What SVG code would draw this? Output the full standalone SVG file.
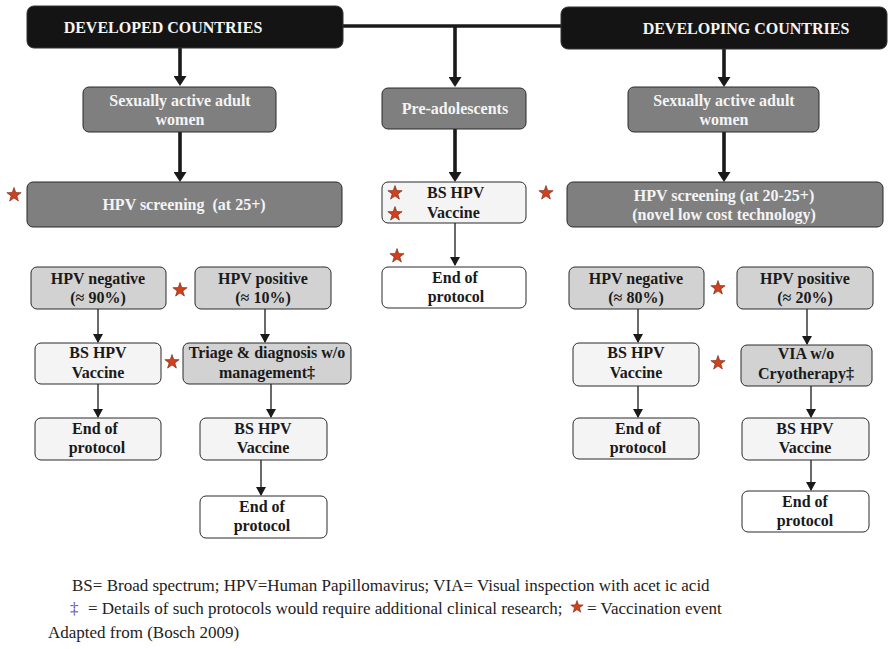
<svg xmlns="http://www.w3.org/2000/svg" width="889" height="649" viewBox="0 0 889 649">
<style>
.t{font-family:"Liberation Serif","Times New Roman",serif;font-weight:bold;font-size:16px;text-anchor:middle}
.s{text-anchor:start}
.w{fill:#f4f4f4}
.k{fill:#1a1a1a}
.hd{fill:#141414;stroke:#333;stroke-width:1}
.dk{fill:#7f7f7f;stroke:#2a2a2a;stroke-width:1}
.md{fill:#d2d2d2;stroke:#2a2a2a;stroke-width:1}
.lt{fill:#f4f4f4;stroke:#2a2a2a;stroke-width:1}
.wh{fill:#ffffff;stroke:#2a2a2a;stroke-width:1}
.thick{stroke:#1a1a1a;stroke-width:3.6;fill:none}
.thin{stroke:#1a1a1a;stroke-width:1.3;fill:none}
.ft{font-family:"Liberation Serif","Times New Roman",serif;font-size:17px;fill:#222}
.dg{fill:#5b4ea0}
</style>
<defs>
<marker id="ahk" viewBox="0 0 10 13" refX="6" refY="6.5" markerWidth="10" markerHeight="13" markerUnits="userSpaceOnUse" orient="auto"><path d="M0,0 L10,6.5 L0,13 Z" fill="#1a1a1a"/></marker>
<marker id="ahn" viewBox="0 0 9 10" refX="8" refY="5" markerWidth="9" markerHeight="10" markerUnits="userSpaceOnUse" orient="auto"><path d="M0,0 L9,5 L0,10 Z" fill="#1a1a1a"/></marker>
<symbol id="star" viewBox="-8 -8 16 16" overflow="visible"><path d="M0,-7.5 L1.76,-2.43 L7.13,-2.32 L2.85,0.93 L4.41,6.07 L0,3 L-4.41,6.07 L-2.85,0.93 L-7.13,-2.32 L-1.76,-2.43 Z" fill="#d2401c" stroke="#6a2010" stroke-width="0.6"/></symbol>
</defs>

<g id="connectors">
<path class="thick" d="M343,26 H561"/>
<path class="thick" d="M180,48 V82" marker-end="url(#ahk)"/>
<path class="thick" d="M455,26 V83" marker-end="url(#ahk)"/>
<path class="thick" d="M724,49 V83" marker-end="url(#ahk)"/>
<path class="thick" d="M180,132 V178" marker-end="url(#ahk)"/>
<path class="thick" d="M455,129 V178" marker-end="url(#ahk)"/>
<path class="thick" d="M724,132 V178" marker-end="url(#ahk)"/>
<path class="thin" d="M455,223 V265" marker-end="url(#ahn)"/>
<path class="thin" d="M98,309 V342" marker-end="url(#ahn)"/>
<path class="thin" d="M265,309 V342" marker-end="url(#ahn)"/>
<path class="thin" d="M98,384 V417" marker-end="url(#ahn)"/>
<path class="thin" d="M271,384 V417" marker-end="url(#ahn)"/>
<path class="thin" d="M261,460 V495" marker-end="url(#ahn)"/>
<path class="thin" d="M638,309 V342" marker-end="url(#ahn)"/>
<path class="thin" d="M807,309 V344" marker-end="url(#ahn)"/>
<path class="thin" d="M638,386 V417" marker-end="url(#ahn)"/>
<path class="thin" d="M811,386 V417" marker-end="url(#ahn)"/>
<path class="thin" d="M811,460 V490" marker-end="url(#ahn)"/>
</g>

<g id="developed">
<rect class="hd" x="27" y="6" width="316" height="42" rx="7"/>
<text class="t w" x="163" y="33">DEVELOPED COUNTRIES</text>
</g>
<g id="developing">
<rect class="hd" x="561" y="7" width="326" height="42" rx="7"/>
<text class="t w" x="746" y="34">DEVELOPING COUNTRIES</text>
</g>

<g id="sexually-left">
<rect class="dk" x="83" y="87" width="193" height="45" rx="6"/>
<text class="t w" x="180" y="106">Sexually active adult</text>
<text class="t w" x="180" y="125">women</text>
</g>
<g id="pre-adolescents">
<rect class="dk" x="382" y="88" width="144" height="41" rx="6"/>
<text class="t w" x="455" y="114">Pre-adolescents</text>
</g>
<g id="sexually-right">
<rect class="dk" x="628" y="87" width="191" height="45" rx="6"/>
<text class="t w" x="724" y="106">Sexually active adult</text>
<text class="t w" x="724" y="125">women</text>
</g>

<g id="screening-left">
<rect class="dk" x="27" y="182" width="315" height="45" rx="6"/>
<text class="t w" x="184" y="210" xml:space="preserve">HPV screening  (at 25+)</text>
<use href="#star" x="6" y="187" width="16" height="16"/>
</g>
<g id="vaccine-mid">
<rect class="lt" x="382" y="182" width="144" height="41" rx="6"/>
<text class="t s k" x="427" y="198">BS HPV</text>
<text class="t s k" x="427" y="218">Vaccine</text>
<use href="#star" x="387" y="185" width="16" height="16"/>
<use href="#star" x="387" y="206" width="16" height="16"/>
</g>
<g id="screening-right">
<rect class="dk" x="567" y="182" width="316" height="45" rx="6"/>
<text class="t w" x="724" y="201">HPV screening (at 20-25+)</text>
<text class="t w" x="724" y="220">(novel low cost technology)</text>
<use href="#star" x="538" y="185" width="16" height="16"/>
</g>

<g id="end-mid">
<rect class="wh" x="382" y="267" width="144" height="41" rx="6"/>
<text class="t k" x="455" y="283">End of</text>
<text class="t k" x="456" y="302">protocol</text>
<use href="#star" x="389" y="248" width="16" height="16"/>
</g>

<g id="neg-left">
<rect class="md" x="31" y="267" width="135" height="42" rx="6"/>
<text class="t k" x="98" y="284">HPV negative</text>
<text class="t k" x="98" y="303">(≈ 90%)</text>
</g>
<g id="pos-left">
<rect class="md" x="195" y="267" width="136" height="42" rx="6"/>
<text class="t k" x="263" y="284">HPV positive</text>
<text class="t k" x="263" y="303">(≈ 10%)</text>
<use href="#star" x="172" y="282" width="16" height="16"/>
</g>
<g id="vaccine-left">
<rect class="lt" x="35" y="343" width="126" height="41" rx="6"/>
<text class="t k" x="98" y="358">BS HPV</text>
<text class="t k" x="98" y="378">Vaccine</text>
</g>
<g id="triage">
<rect class="md" x="183" y="343" width="168" height="41" rx="6"/>
<text class="t k" x="267" y="358">Triage &amp; diagnosis w/o</text>
<text class="t k" x="267" y="378">management‡</text>
<use href="#star" x="164" y="354" width="16" height="16"/>
</g>
<g id="end-left">
<rect class="lt" x="35" y="418" width="126" height="42" rx="6"/>
<text class="t k" x="95" y="434">End of</text>
<text class="t k" x="97" y="453">protocol</text>
</g>
<g id="vaccine-left2">
<rect class="lt" x="200" y="418" width="127" height="42" rx="6"/>
<text class="t k" x="263" y="434">BS HPV</text>
<text class="t k" x="263" y="453">Vaccine</text>
</g>
<g id="end-left2">
<rect class="wh" x="200" y="496" width="127" height="42" rx="6"/>
<text class="t k" x="262" y="512">End of</text>
<text class="t k" x="262" y="531">protocol</text>
</g>

<g id="neg-right">
<rect class="md" x="569" y="267" width="135" height="42" rx="6"/>
<text class="t k" x="636" y="284">HPV negative</text>
<text class="t k" x="636" y="303">(≈ 80%)</text>
</g>
<g id="pos-right">
<rect class="md" x="737" y="267" width="136" height="42" rx="6"/>
<text class="t k" x="805" y="284">HPV positive</text>
<text class="t k" x="805" y="303">(≈ 20%)</text>
<use href="#star" x="710" y="280" width="16" height="16"/>
</g>
<g id="vaccine-right">
<rect class="lt" x="573" y="343" width="126" height="43" rx="6"/>
<text class="t k" x="636" y="358">BS HPV</text>
<text class="t k" x="636" y="378">Vaccine</text>
</g>
<g id="via">
<rect class="md" x="741" y="345" width="131" height="41" rx="6"/>
<text class="t k" x="806" y="359">VIA w/o</text>
<text class="t k" x="806" y="379">Cryotherapy‡</text>
<use href="#star" x="710" y="355" width="16" height="16"/>
</g>
<g id="end-right">
<rect class="lt" x="573" y="418" width="126" height="41" rx="6"/>
<text class="t k" x="638" y="434">End of</text>
<text class="t k" x="638" y="453">protocol</text>
</g>
<g id="vaccine-right2">
<rect class="lt" x="742" y="418" width="127" height="42" rx="6"/>
<text class="t k" x="805" y="434">BS HPV</text>
<text class="t k" x="805" y="453">Vaccine</text>
</g>
<g id="end-right2">
<rect class="wh" x="742" y="491" width="127" height="41" rx="6"/>
<text class="t k" x="805" y="507">End of</text>
<text class="t k" x="805" y="526">protocol</text>
</g>

<g id="legend">
<text class="ft" x="72" y="591">BS= Broad spectrum; HPV=Human Papillomavirus; VIA= Visual inspection with acet ic acid</text>
<text class="ft dg" x="70" y="614">‡</text>
<text class="ft" x="88" y="614">= Details of such protocols would require additional clinical research;</text>
<use href="#star" x="570" y="600" width="14" height="14"/>
<text class="ft" x="587" y="614">= Vaccination event</text>
<text class="ft" x="48" y="638">Adapted from (Bosch 2009)</text>
</g>
</svg>
